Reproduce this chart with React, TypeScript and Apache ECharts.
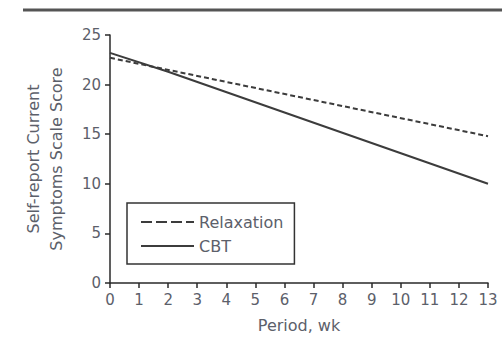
import React, { useEffect, useRef } from "react";
import * as echarts from "echarts";

const weeks = [0, 1, 2, 3, 4, 5, 6, 7, 8, 9, 10, 11, 12, 13];
const relaxationPoints: [number, number][] = [
  [0, 22.7],
  [13, 14.8],
];
const cbtPoints: [number, number][] = [
  [0, 23.2],
  [2, 21.3],
  [13, 10.0],
];
const seriesNames = ["Relaxation", "CBT"];
const xAxisTitle = "Period, wk";
const yAxisTitle = "Self-report Current\nSymptoms Scale Score";

const FONT = "DejaVu Sans";
const LABEL_COLOR = "#5c606a";
const AXIS_COLOR = "#2a2a2a";
const LINE_COLOR = "#3c3c3c";

export default function App() {
  const ref = useRef<HTMLDivElement>(null);
  useEffect(() => {
    if (!ref.current) return;
    const chart = echarts.init(ref.current, undefined, { renderer: "svg" });
    chart.setOption({
      animation: false,
      backgroundColor: "#ffffff",
      grid: { left: 110, right: 14, top: 35, bottom: 56, containLabel: false },
      graphic: [
        {
          type: "line",
          shape: { x1: 23, y1: 10, x2: 502, y2: 10 },
          style: { stroke: "#555555", lineWidth: 3 },
        },
      ],
      legend: {
        orient: "vertical",
        left: 127,
        top: 203,
        data: [
          { name: seriesNames[0], lineStyle: { type: [11, 4] } },
          { name: seriesNames[1] },
        ],
        borderColor: "#333333",
        borderWidth: 1.5,
        padding: [10, 11, 9, 13],
        itemWidth: 53,
        itemHeight: 14,
        itemGap: 6,
        itemStyle: { opacity: 0, borderWidth: 0 },
        textStyle: { fontFamily: FONT, fontSize: 16, color: LABEL_COLOR, lineHeight: 18 },
      },
      xAxis: {
        type: "value",
        min: 0,
        max: 13,
        interval: 1,
        name: xAxisTitle,
        nameLocation: "middle",
        nameGap: 34,
        nameTextStyle: { fontFamily: FONT, fontSize: 16, color: LABEL_COLOR },
        axisLine: { show: true, lineStyle: { color: AXIS_COLOR, width: 1.5 } },
        axisTick: { show: true, length: 5, lineStyle: { color: AXIS_COLOR, width: 1.5 } },
        axisLabel: {
          fontFamily: FONT,
          fontSize: 15,
          color: LABEL_COLOR,
          margin: 9,
          formatter: (v: number) => (weeks.includes(v) ? String(v) : ""),
        },
        splitLine: { show: false },
      },
      yAxis: {
        type: "value",
        min: 0,
        max: 25,
        interval: 5,
        name: yAxisTitle,
        nameLocation: "middle",
        nameGap: 42,
        nameTextStyle: { fontFamily: FONT, fontSize: 16, color: LABEL_COLOR, lineHeight: 23 },
        axisLine: { show: true, lineStyle: { color: AXIS_COLOR, width: 1.5 } },
        axisTick: { show: true, length: 5, lineStyle: { color: AXIS_COLOR, width: 1.5 } },
        axisLabel: { fontFamily: FONT, fontSize: 15, color: LABEL_COLOR, margin: 9 },
        splitLine: { show: false },
      },
      series: [
        {
          name: seriesNames[0],
          type: "line",
          data: relaxationPoints,
          symbol: "none",
          lineStyle: { color: LINE_COLOR, width: 2, type: [5, 3] },
          itemStyle: { color: LINE_COLOR },
        },
        {
          name: seriesNames[1],
          type: "line",
          data: cbtPoints,
          symbol: "none",
          lineStyle: { color: LINE_COLOR, width: 2, type: "solid" },
          itemStyle: { color: LINE_COLOR },
        },
      ],
    });
    return () => chart.dispose();
  }, []);
  return (
    <div
      ref={ref}
      style={{ width: 502, height: 339, position: "absolute", left: 0, top: 0 }}
    />
  );
}
